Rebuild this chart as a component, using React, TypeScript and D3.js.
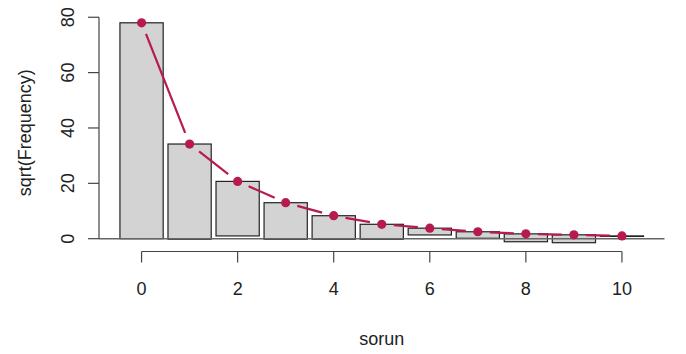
import React from "react";
import * as d3 from "d3";

// counts of "sorun" (0..10), hanging rootogram on sqrt scale
const counts = [0, 1, 2, 3, 4, 5, 6, 7, 8, 9, 10];
// sqrt(expected) - red points, also the bar tops
const expectedSqrt = [78.0, 34.2, 20.7, 13.0, 8.3, 5.2, 3.8, 2.5, 1.75, 1.4, 1.0];
// sqrt(observed) - bar heights
const observedSqrt = [78.0, 34.4, 19.7, 13.2, 8.5, 5.4, 2.45, 2.35, 2.85, 2.85, 0.1];
const xTicks = [0, 2, 4, 6, 8, 10];
const yTicks = [0, 20, 40, 60, 80];

const W = 686;
const H = 354;
const RED = "#B61A51";

export default function App() {
  const barW = 0.9;

  // bar bottoms hang from the expected curve
  const bottoms = expectedSqrt.map((e, i) => e - observedSqrt[i]);

  // R style 4% extension of the data range
  const xmin = d3.min(counts)! - barW / 2;
  const xmax = d3.max(counts)! + barW / 2;
  const xext = (xmax - xmin) * 0.04;
  const ymin = Math.min(d3.min(bottoms)!, 0);
  const ymax = d3.max(expectedSqrt)!;
  const yext = (ymax - ymin) * 0.04;

  const x = d3.scaleLinear().domain([xmin - xext, xmax + xext]).range([99, 664.5]);
  const y = d3.scaleLinear().domain([ymin - yext, ymax + yext]).range([251.5, 14]);

  const plotBottom = y.range()[0];
  const plotLeft = x.range()[0];

  // type="b" lines: segments with a gap around each point
  const gap = 12;
  const segs: { x1: number; y1: number; x2: number; y2: number }[] = [];
  for (let i = 0; i < counts.length - 1; i++) {
    const ax = x(counts[i]), ay = y(expectedSqrt[i]);
    const bx = x(counts[i + 1]), by = y(expectedSqrt[i + 1]);
    const len = Math.hypot(bx - ax, by - ay);
    if (len <= 2 * gap) continue;
    const ux = (bx - ax) / len, uy = (by - ay) / len;
    segs.push({ x1: ax + ux * gap, y1: ay + uy * gap, x2: bx - ux * gap, y2: by - uy * gap });
  }

  const font = "'Liberation Sans', Arial, sans-serif";
  const axisCol = "#444";

  return (
    <svg width={W} height={H} style={{ position: "absolute", left: 0, top: 0, background: "#fff" }}
      fontFamily={font}>
      {/* bars */}
      {counts.map((c, i) => (
        <rect key={"b" + c}
          x={x(c - barW / 2)}
          width={x(c + barW / 2) - x(c - barW / 2)}
          y={y(expectedSqrt[i])}
          height={Math.max(0.5, y(bottoms[i]) - y(expectedSqrt[i]))}
          fill="#D3D3D3" stroke="#222" strokeWidth={1.2} />
      ))}
      {/* zero reference line */}
      <line x1={x.range()[0]} x2={x.range()[1]} y1={y(0)} y2={y(0)} stroke="#666" strokeWidth={1.5} />

      {/* expected curve */}
      {segs.map((s, i) => (
        <line key={"s" + i} {...s} stroke={RED} strokeWidth={2.2} />
      ))}
      {counts.map((c, i) => (
        <circle key={"p" + c} cx={x(c)} cy={y(expectedSqrt[i])} r={4.6} fill={RED} />
      ))}

      {/* x axis */}
      <g>
        <line x1={x(xTicks[0])} x2={x(xTicks[xTicks.length - 1])} y1={plotBottom} y2={plotBottom}
          stroke={axisCol} strokeWidth={1.2} />
        {xTicks.map(t => (
          <g key={"xt" + t}>
            <line x1={x(t)} x2={x(t)} y1={plotBottom} y2={plotBottom + 11} stroke={axisCol} strokeWidth={1.2} />
            <text x={x(t)} y={295} textAnchor="middle" fontSize={18} fill="#222">{t}</text>
          </g>
        ))}
        <text x={(x.range()[0] + x.range()[1]) / 2} y={345} textAnchor="middle" fontSize={18} fill="#222">sorun</text>
      </g>

      {/* y axis */}
      <g>
        <line x1={plotLeft} x2={plotLeft} y1={y(yTicks[0])} y2={y(yTicks[yTicks.length - 1])}
          stroke={axisCol} strokeWidth={1.2} />
        {yTicks.map(t => (
          <g key={"yt" + t}>
            <line x1={plotLeft - 11} x2={plotLeft} y1={y(t)} y2={y(t)} stroke={axisCol} strokeWidth={1.2} />
            <text transform={`translate(74,${y(t)}) rotate(-90)`} textAnchor="middle" fontSize={18} fill="#222">{t}</text>
          </g>
        ))}
        <text transform={`translate(31,${(y.range()[0] + y.range()[1]) / 2}) rotate(-90)`}
          textAnchor="middle" fontSize={18} fill="#222">sqrt(Frequency)</text>
      </g>
    </svg>
  );
}
